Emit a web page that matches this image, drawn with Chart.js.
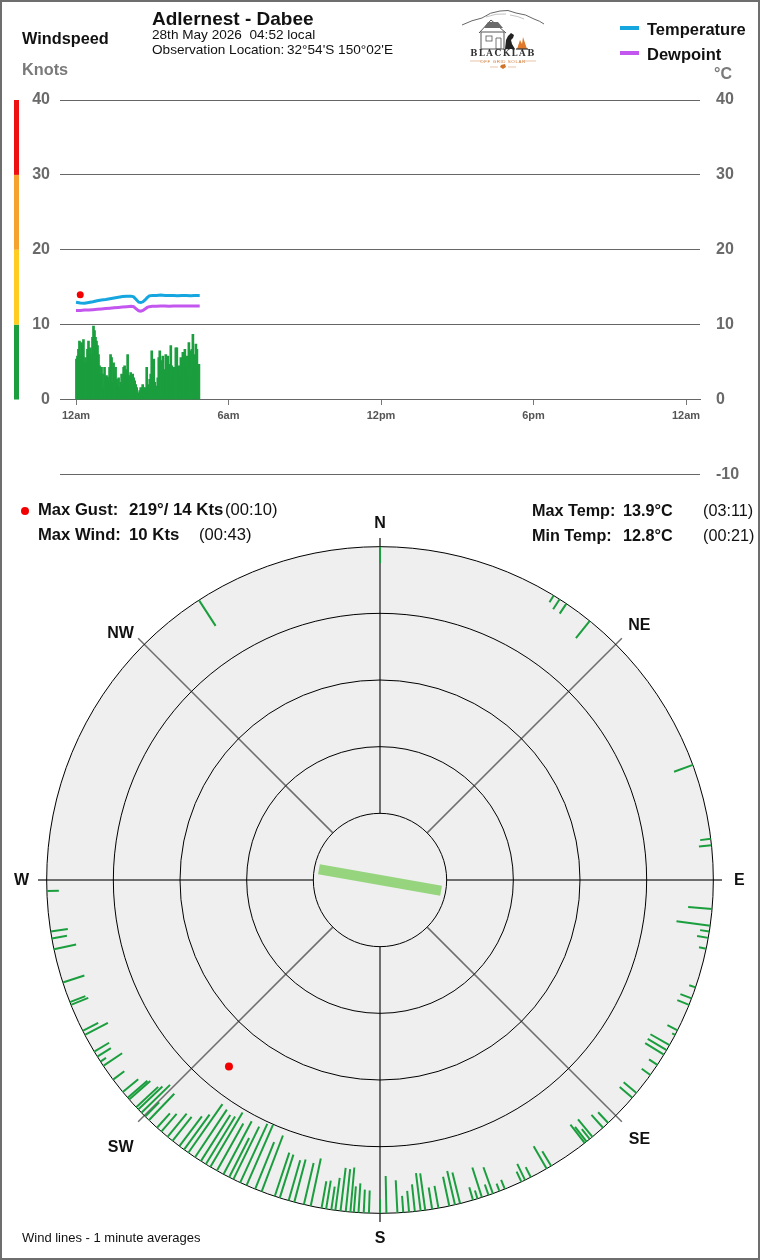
<!DOCTYPE html>
<html>
<head>
<meta charset="utf-8">
<title>Adlernest - Dabee windspeed</title>
<script src="https://cdn.jsdelivr.net/npm/chart.js@4.4.0/dist/chart.umd.min.js"></script>
<style>
    html, body { margin: 0; padding: 0; background: #fff; }
    #page { position: relative; width: 760px; height: 1260px; overflow: hidden; font-family: Arial, "Liberation Sans", sans-serif; }
    #frame { position: absolute; left: 0; top: 0; width: 760px; height: 1260px; box-sizing: border-box; border: 2px solid #6e6e6e; z-index: 5; pointer-events: none; }
    #topWrap { position: absolute; left: 0; top: 0; width: 760px; height: 500px; }
    #roseWrap { position: absolute; left: 0; top: 500px; width: 760px; height: 760px; }
    .t { position: absolute; white-space: nowrap; color: #111; line-height: 1; transform: translateY(-50%); z-index: 3; }
    .b { font-weight: bold; }
    .swatch { position: absolute; width: 19px; height: 4px; z-index: 3; }
</style>
</head>
<body>
<div id="page">
    <div id="topWrap"><canvas id="windChart"></canvas></div>
    <div id="roseWrap"><canvas id="roseChart"></canvas></div>

    <div class="t b" style="left:22px;top:38px;font-size:16.3px;">Windspeed</div>
    <div class="t b" style="left:22px;top:69px;font-size:16.3px;color:#7a7a7a;">Knots</div>
    <div class="t b" style="left:152px;top:18px;font-size:19px;">Adlernest - Dabee</div>
    <div class="t" style="left:152px;top:35px;font-size:13.6px;">28th May 2026&nbsp; 04:52 local</div>
    <div class="t" style="left:152px;top:50px;font-size:13.6px;">Observation Location:&thinsp;32°54'S 150°02'E</div>

    <!-- logo -->
    <svg style="position:absolute;left:460px;top:8px;z-index:3" width="86" height="62" viewBox="0 0 86 62">
        <path d="M2 17 Q12 12 22 10 Q30 4 40 3 Q48 1 56 5 Q66 6 74 11 Q80 13 84 16" fill="none" stroke="#555" stroke-width="0.9"/>
        <path d="M26 9 Q36 5 46 6 M50 7 Q58 8 64 11" fill="none" stroke="#999" stroke-width="0.6"/>
        <rect x="21" y="24" width="23" height="17" fill="none" stroke="#555" stroke-width="1"/>
        <path d="M19 25 L31 12 L46 25" fill="none" stroke="#555" stroke-width="1"/>
        <path d="M28 14 L38 14 L43 20 L24 20 Z" fill="#6a6a6a"/>
        <rect x="26" y="28" width="6" height="5" fill="none" stroke="#555" stroke-width="0.8"/>
        <path d="M36 30 L41 30 L41 41 L36 41 Z" fill="none" stroke="#555" stroke-width="0.8"/>
        <path d="M45 41 L46 32 L48 28 L51 25 L54 27 L53 30 L51 32 L52 36 L55 41 Z" fill="#222"/>
        <path d="M57 41 L60 32 L62 36 L63 29 L67 41 Z" fill="#e07a2a"/>
        <path d="M56 41 L68 41" stroke="#333" stroke-width="1.2"/>
        <text x="43" y="48" font-family="DejaVu Serif, serif" font-weight="bold" font-size="8.5" letter-spacing="1.5" text-anchor="middle" fill="#333">BLACKLAB</text>
        <text x="43" y="54.5" font-family="Arial, sans-serif" font-size="4.4" letter-spacing="0.6" text-anchor="middle" fill="#d0762c">OFF GRID SOLAR</text>
        <path d="M10 53 H22 M64 53 H76 M30 59 H38 M48 59 H56" stroke="#d8a070" stroke-width="0.6"/>
        <path d="M41 57 L45 56 L46 59 L43 61 L40 59 Z" fill="#d0762c"/>
    </svg>

    <div class="swatch" style="left:620px;top:26px;background:#16a6df;"></div>
    <div class="t b" style="left:647px;top:29px;font-size:16.5px;">Temperature</div>
    <div class="swatch" style="left:620px;top:51px;background:#c356ee;"></div>
    <div class="t b" style="left:647px;top:54px;font-size:16.5px;">Dewpoint</div>
    <div class="t b" style="left:714px;top:74px;font-size:16px;color:#7a7a7a;">°C</div>

    <!-- summary rows -->
    <div style="position:absolute;left:21px;top:507px;width:8px;height:8px;border-radius:50%;background:#f20000;z-index:3;"></div>
    <div class="t b" style="left:38px;top:510px;font-size:16.6px;">Max Gust:</div>
    <div class="t b" style="left:129px;top:510px;font-size:16.8px;">219°/ 14 Kts</div>
    <div class="t" style="left:225px;top:510px;font-size:16.6px;">(00:10)</div>
    <div class="t b" style="left:38px;top:535px;font-size:16.6px;">Max Wind:</div>
    <div class="t b" style="left:129px;top:535px;font-size:16.8px;">10 Kts</div>
    <div class="t" style="left:199px;top:535px;font-size:16.6px;">(00:43)</div>
    <div class="t b" style="left:532px;top:510px;font-size:16.2px;">Max Temp:</div>
    <div class="t b" style="left:623px;top:510px;font-size:16.2px;">13.9°C</div>
    <div class="t" style="left:703px;top:510px;font-size:16.2px;">(03:11)</div>
    <div class="t b" style="left:532px;top:535px;font-size:16.2px;">Min Temp:</div>
    <div class="t b" style="left:623px;top:535px;font-size:16.2px;">12.8°C</div>
    <div class="t" style="left:703px;top:535px;font-size:16.2px;">(00:21)</div>

    <div class="t" style="left:22px;top:1237px;font-size:13px;">Wind lines - 1 minute averages</div>
    <div id="frame"></div>
</div>

<script>
// ---- top chart data ----
const hourTicks = [0, 6, 12, 18, 24];
const hourTickLabels = ['12am', '6am', '12pm', '6pm', '12am'];

// windspeed bars (knots), one bar per sample step, starting at midnight
const windSampleMinutes = 2.37;
const windBarSpeeds = [
    5.4, 5.8, 6.7, 7.8, 6.0, 7.6, 7.2, 8.0, 4.9, 5.6,
    4.9, 6.7, 7.8, 6.0, 6.9, 6.0, 8.3, 9.8, 9.2, 8.3,
    7.8, 7.2, 6.0, 4.5, 3.4, 4.3, 3.4, 1.6, 4.3, 2.9,
    3.2, 3.0, 2.5, 4.3, 6.0, 5.6, 2.3, 4.9, 3.6, 4.3,
    2.7, 2.0, 2.9, 1.6, 2.3, 3.4, 2.0, 4.3, 4.5, 3.4,
    4.0, 6.0, 3.2, 2.7, 3.6, 3.2, 3.4, 2.9, 2.5, 2.0,
    1.6, 0.7, 0.9,
    1.2, 1.6, 0.9, 2.0, 1.6, 1.2, 1.6, 4.3, 1.8, 2.0,
    2.7, 3.4, 6.5, 3.2, 5.4, 2.3, 1.8, 1.6, 2.9, 5.6,
    6.5, 4.7, 5.2, 5.8, 3.6, 4.0, 6.0, 4.5, 5.8, 4.7,
    4.0, 7.2, 4.5, 4.3, 2.7, 4.3, 6.9, 6.9, 3.4, 4.5,
    3.2, 5.6, 4.9, 6.3, 6.0, 6.7, 4.7, 5.8, 3.8, 7.6,
    6.5, 4.3, 6.7, 8.7, 4.3, 6.0, 7.4, 6.7, 4.5, 4.7
];

// temperature / dewpoint (deg C) against minutes after midnight
const tempMinutes = [0, 10, 20, 30, 40, 50, 60, 70, 80, 90, 100, 110, 120, 130, 136, 142, 148, 153, 158, 163, 168, 173, 180, 190, 200, 210, 220, 230, 240, 250, 260, 270, 280, 292];
const tempValues  = [13.0, 12.9, 12.85, 12.95, 13.05, 13.2, 13.3, 13.35, 13.45, 13.55, 13.65, 13.75, 13.8, 13.8, 13.7, 13.35, 13.0, 12.95, 13.05, 13.3, 13.6, 13.85, 13.9, 13.9, 13.95, 13.9, 13.9, 13.9, 13.85, 13.9, 13.9, 13.85, 13.9, 13.9];
const dewValues   = [11.9, 11.9, 11.95, 11.95, 12.0, 12.05, 12.1, 12.15, 12.2, 12.25, 12.3, 12.35, 12.4, 12.45, 12.4, 12.1, 11.85, 11.8, 11.9, 12.1, 12.3, 12.4, 12.45, 12.45, 12.5, 12.5, 12.45, 12.5, 12.5, 12.5, 12.5, 12.5, 12.5, 12.5];

const gustMinute = 10;
const gustSpeed = 14;
const gustDirection = 219;

// left colour strip bands (knots)
const speedBandLimits = [0, 10, 20, 30, 40];
const speedBandColors = ['#1b9e3e', '#ffcc22', '#f5a22e', '#ee1111'];

// ---- wind rose data: direction (deg) and speed (knots) of each 1 minute average ----
const windDirections = [
    0, 31.4, 32.6, 34.0, 39.0, 69.8, 82.9, 84.0, 95.0, 97.9,
    98.9, 100.0, 101.9, 108.8, 110.8, 112.0, 116.8, 117.7, 119.7, 120.7,
    121.6, 123.7, 125.8, 129.7, 130.8, 136.8, 138.0, 140.4, 141.0, 141.7,
    142.1, 149.1, 150.0, 153.1, 154.2, 154.9, 158.0, 159.0, 160.2, 161.0,
    162.2, 163.0, 163.8, 166.1, 167.0, 168.0, 169.9, 171.0, 172.2, 173.0,
    174.0, 175.0, 176.0, 177.0, 178.9, 180.0, 181.9, 182.8, 183.7, 184.5,
    185.1, 185.9, 186.8, 187.7, 188.4, 189.3, 190.1, 192.0, 193.2, 194.9,
    195.9, 197.5, 198.4, 200.8, 202.0, 203.6, 204.8, 206.1, 206.9, 208.0,
    209.3, 210.6, 211.5, 212.5, 213.7, 215.1, 216.0, 217.0, 218.5, 219.6,
    221.0, 222.0, 223.9, 224.8, 225.7, 226.5, 227.0, 228.8, 229.2, 230.5,
    233.2, 236.1, 237.0, 238.0, 239.0, 242.3, 243.1, 248.0, 248.5, 252.1,
    258.0, 259.9, 261.1, 268.1, 327.1
];
const windSpeeds = [
    2.5, 1.2, 1.8, 1.8, 3.3, 3.0, 1.6, 1.9, 3.6, 5.1,
    1.4, 1.7, 1.1, 1.0, 1.8, 1.9, 1.7, 0.5, 3.3, 3.3,
    3.3, 1.5, 1.6, 2.5, 2.5, 2.2, 2.6, 3.4, 1.9, 2.8,
    3.5, 2.6, 3.9, 1.7, 2.7, 1.7, 1.5, 1.2, 4.2, 1.7,
    4.7, 1.3, 2.0, 4.8, 5.2, 4.5, 3.4, 3.3, 5.6, 5.7,
    4.1, 3.2, 2.5, 4.9, 5.6, 2.1, 3.4, 3.5, 4.4, 3.9,
    6.7, 6.4, 6.5, 4.9, 3.5, 4.3, 4.1, 7.3, 6.4, 6.6,
    6.3, 6.8, 6.9, 9.0, 7.6, 9.9, 9.7, 8.8, 6.6, 9.0,
    8.1, 9.5, 8.4, 8.2, 8.6, 8.9, 6.5, 5.6, 4.6, 4.5,
    3.5, 2.9, 5.5, 3.0, 6.0, 5.0, 4.5, 4.2, 3.9, 3.0,
    2.1, 3.4, 1.0, 2.4, 2.6, 3.9, 2.6, 2.8, 2.5, 3.4,
    3.4, 2.3, 2.6, 1.8, 4.6
];
const meanDirection = 100;

// rose geometry in knots: 0 kts on the outer ring, speed runs inward
const roseOuterKts = 50;
const roseRings = [10, 20, 30, 40, 50];
const compassLabels = ['N', 'NE', 'E', 'SE', 'S', 'SW', 'W', 'NW'];
const compassBearings = [0, 45, 90, 135, 180, 225, 270, 315];

// colours
const windGreen = '#1b9e3e';
const tempBlue = '#16a6df';
const dewPurple = '#c356ee';
const axisGray = '#6e6e6e';

document.addEventListener('DOMContentLoaded', function() {
    createWindChart();
    createWindRose();
});

// Windspeed / temperature chart
function createWindChart() {
    const ctx = document.getElementById('windChart');

    const speedStrip = {
        id: 'speedStrip',
        beforeDraw(chart) {
            const c = chart.ctx;
            const y = chart.scales.yKnots;
            c.save();
            for (let i = 0; i < speedBandColors.length; i++) {
                const top = y.getPixelForValue(speedBandLimits[i + 1]);
                const bottom = y.getPixelForValue(speedBandLimits[i]);
                c.fillStyle = speedBandColors[i];
                c.fillRect(14, top, 5, bottom - top);
            }
            c.restore();
        }
    };

    const fitWidth = function(scale) { scale.width = 60; };

    new Chart(ctx, {
        type: 'bar',
        data: {
            datasets: [
                {
                    type: 'scatter',
                    label: 'Max Gust',
                    data: [{ x: gustMinute / 60, y: gustSpeed }],
                    backgroundColor: '#f20000',
                    borderWidth: 0,
                    pointRadius: 3.5,
                    yAxisID: 'yKnots',
                    order: 0
                },
                {
                    type: 'line',
                    label: 'Temperature',
                    data: tempMinutes.map((m, i) => ({ x: m / 60, y: tempValues[i] })),
                    borderColor: tempBlue,
                    borderWidth: 3,
                    pointRadius: 0,
                    tension: 0,
                    yAxisID: 'yTemp',
                    order: 1
                },
                {
                    type: 'line',
                    label: 'Dewpoint',
                    data: tempMinutes.map((m, i) => ({ x: m / 60, y: dewValues[i] })),
                    borderColor: dewPurple,
                    borderWidth: 3,
                    pointRadius: 0,
                    tension: 0,
                    yAxisID: 'yTemp',
                    order: 2
                },
                {
                    type: 'bar',
                    label: 'Windspeed',
                    data: windBarSpeeds.map((v, i) => ({ x: (i * windSampleMinutes + 1) / 60, y: v })),
                    backgroundColor: windGreen,
                    barThickness: 2,
                    yAxisID: 'yKnots',
                    order: 3
                }
            ]
        },
        options: {
            responsive: true,
            maintainAspectRatio: false,
            animation: false,
            layout: { padding: { top: 100, bottom: 25, left: 0, right: 0 } },
            plugins: {
                legend: { display: false },
                tooltip: { enabled: false }
            },
            scales: {
                x: {
                    type: 'linear',
                    min: -0.63,
                    max: 24.55,
                    offset: false,
                    position: { yKnots: 0 },
                    afterBuildTicks: function(scale) {
                        scale.ticks = hourTicks.map(v => ({ value: v }));
                    },
                    ticks: {
                        callback: function(value) {
                            const i = hourTicks.indexOf(value);
                            return i >= 0 ? hourTickLabels[i] : '';
                        },
                        color: '#555',
                        font: { family: 'Arial', size: 11, weight: 'bold' },
                        padding: 5,
                        maxRotation: 0
                    },
                    grid: { display: true, offset: false, drawOnChartArea: false, drawTicks: true, tickLength: 5, color: '#777' },
                    border: { display: true, color: '#666', width: 1 }
                },
                yKnots: {
                    position: 'left',
                    min: -10,
                    max: 40,
                    afterFit: fitWidth,
                    ticks: {
                        stepSize: 10,
                        callback: v => (v < 0 ? '' : v),
                        color: '#6a6a6a',
                        font: { family: 'Arial', size: 16, weight: 'bold' },
                        padding: 10
                    },
                    grid: { color: '#666', lineWidth: 1, drawTicks: false },
                    border: { display: false }
                },
                yTemp: {
                    position: 'right',
                    min: -10,
                    max: 40,
                    afterFit: fitWidth,
                    ticks: {
                        stepSize: 10,
                        color: '#6a6a6a',
                        font: { family: 'Arial', size: 16, weight: 'bold' },
                        padding: 16
                    },
                    grid: { display: false, drawTicks: false },
                    border: { display: false }
                }
            }
        },
        plugins: [speedStrip]
    });
}

// position on the rose for a bearing and a speed (speed runs in from the rim)
function roseXY(dirDeg, speedKts) {
    const r = roseOuterKts - speedKts;
    const a = dirDeg * Math.PI / 180;
    return { x: r * Math.sin(a), y: r * Math.cos(a) };
}

// Wind direction rose
function createWindRose() {
    const ctx = document.getElementById('roseChart');

    const windSegments = [];
    windDirections.forEach((d, i) => {
        windSegments.push(roseXY(d, 0), roseXY(d, windSpeeds[i]), { x: null, y: null });
    });

    const innerKts = roseOuterKts - roseRings[0];
    const meanBar = [
        roseXY(meanDirection, innerKts + 0.7),
        roseXY(meanDirection + 180, innerKts + 0.7)
    ];

    // small nudges (px) so the compass letters sit where the original puts them
    const labelNudgeX = [0, 2, 2, 2, 0, -2, -1, -2];
    const labelNudgeY = [0, 2, 0, 1, 0, 9, 0, 10];

    const roseGrid = {
        id: 'roseGrid',
        beforeDatasetsDraw(chart) {
            const c = chart.ctx;
            const xs = chart.scales.x, ys = chart.scales.y;
            const cx = xs.getPixelForValue(0);
            const cy = ys.getPixelForValue(0);
            const unit = xs.getPixelForValue(1) - cx;
            const outer = roseRings[roseRings.length - 1] * unit;

            c.save();
            c.beginPath();
            c.arc(cx, cy, outer, 0, Math.PI * 2);
            c.fillStyle = '#efefef';
            c.fill();

            // compass spokes, from the inner ring out past the rim
            compassBearings.forEach((deg, i) => {
                const a = deg * Math.PI / 180;
                const r0 = roseRings[0] * unit;
                const r1 = 51.3 * unit;
                c.beginPath();
                c.moveTo(cx + Math.sin(a) * r0, cy - Math.cos(a) * r0);
                c.lineTo(cx + Math.sin(a) * r1, cy - Math.cos(a) * r1);
                c.strokeStyle = axisGray;
                c.lineWidth = i % 2 === 0 ? 2 : 1.5;
                c.stroke();
            });

            roseRings.forEach(r => {
                c.beginPath();
                c.arc(cx, cy, r * unit, 0, Math.PI * 2);
                c.strokeStyle = '#000';
                c.lineWidth = 1;
                c.stroke();
            });

            c.fillStyle = '#111';
            c.font = 'bold 16px Arial';
            c.textAlign = 'center';
            c.textBaseline = 'middle';
            compassLabels.forEach((label, i) => {
                const a = compassBearings[i] * Math.PI / 180;
                const r = (i % 2 === 0 ? 53.6 : 54.6) * unit;
                c.fillText(label, cx + Math.sin(a) * r + labelNudgeX[i], cy - Math.cos(a) * r + 1 + labelNudgeY[i]);
            });
            c.restore();
        }
    };

    new Chart(ctx, {
        type: 'scatter',
        data: {
            datasets: [
                {
                    label: 'Wind lines',
                    data: windSegments,
                    showLine: true,
                    spanGaps: false,
                    borderColor: windGreen,
                    borderWidth: 2,
                    borderCapStyle: 'butt',
                    pointRadius: 0,
                    order: 2
                },
                {
                    label: 'Mean direction',
                    data: meanBar,
                    showLine: true,
                    borderColor: '#96d57e',
                    borderWidth: 10,
                    borderCapStyle: 'butt',
                    pointRadius: 0,
                    order: 1
                },
                {
                    label: 'Max gust',
                    data: [roseXY(gustDirection, gustSpeed)],
                    backgroundColor: '#f20000',
                    borderWidth: 0,
                    pointRadius: 4,
                    order: 0
                }
            ]
        },
        options: {
            responsive: true,
            maintainAspectRatio: false,
            animation: false,
            layout: { padding: 0 },
            plugins: {
                legend: { display: false },
                tooltip: { enabled: false }
            },
            scales: {
                x: { type: 'linear', min: -56.4, max: 56.4, display: false },
                y: { type: 'linear', min: -56.4, max: 56.4, display: false }
            }
        },
        plugins: [roseGrid]
    });
}
</script>
</body>
</html>
